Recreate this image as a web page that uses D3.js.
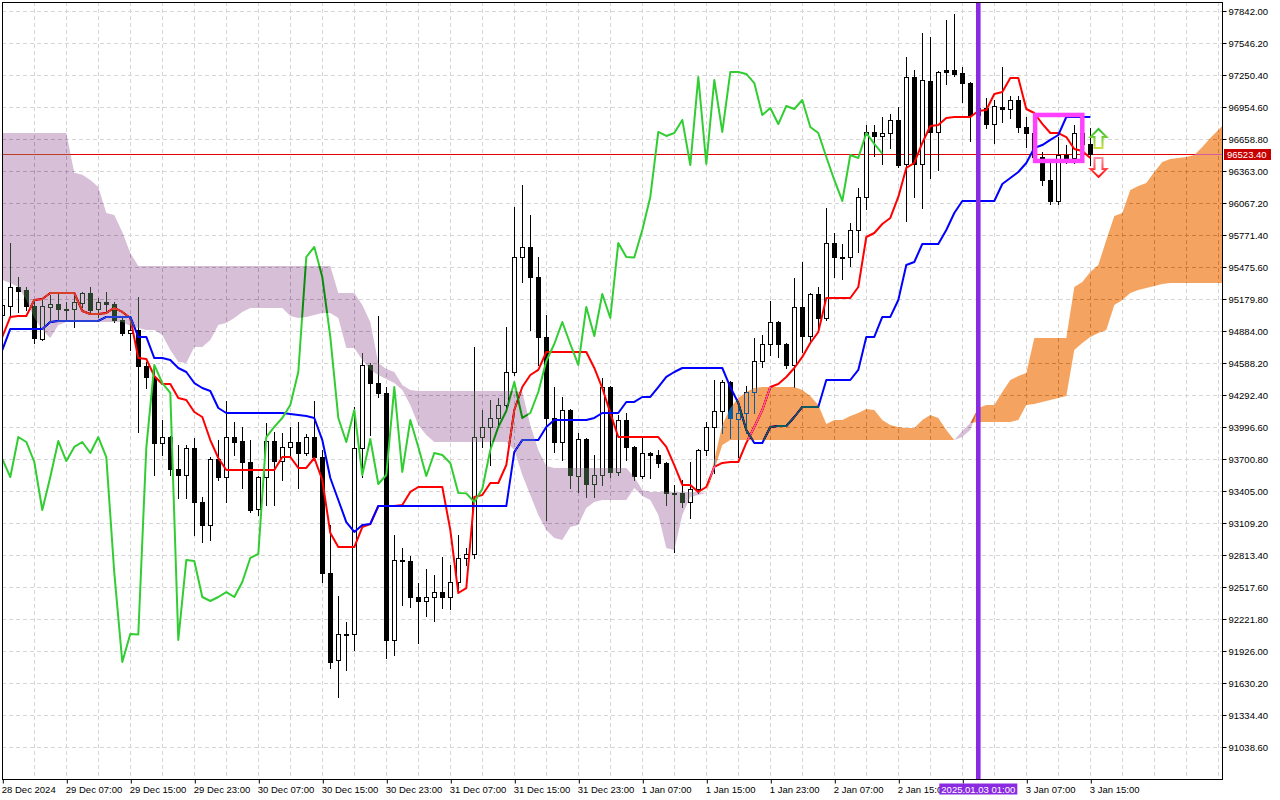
<!DOCTYPE html>
<html>
<head>
<meta charset="utf-8">
<script src="https://cdn.jsdelivr.net/npm/d3@7"></script>
<style>
  html, body { margin: 0; padding: 0; background: #fff; }
  svg { display: block; font-family: "Liberation Sans", Arial, sans-serif; }
</style>
</head>
<body>
<div id="chart"></div>
<script>
// Hourly BTC candles, bar 0 = 28 Dec 2024 23:00
const opens = [95032,95115,95291,95263,95115,94810,95106,95134,95087,95087,
  95143,95235,95087,95152,95134,94986,94866,94893,94561,94459,
  93849,93904,93608,93553,93803,93303,93091,93701,93534,93904,
  93867,93673,93239,93534,93867,93682,93812,93858,93756,93904,
  93719,92647,91843,92083,92079,93803,94570,94403,94311,92028,
  92767,92758,92425,92388,92425,92471,92425,92564,92786,92823,
  93904,93997,94080,94200,94505,95568,95661,95383,94829,94080,
  93858,94154,93544,93886,93470,93553,94366,93581,94061,93812,
  93544,93756,93738,93664,93387,93383,93303,93424,93784,93997,
  94145,94413,94071,94126,94320,94607,94764,94967,94764,94570,
  95106,94838,95226,95004,95698,95568,95564,95818,96123,96724,
  96687,96714,96835,96428,97232,96428,97195,96724,97297,97297,
  97269,97176,96881,96945,96797,96955,96936,97019,96770,96714,
  96492,96280,96086,96511,96483,96714,96613];
const highs = [95171,95698,95383,95291,95180,95180,95217,95226,95152,95235,
  95245,95291,95189,95245,95152,95014,95004,95198,94598,94551,
  94061,93915,93830,93830,93895,93350,93719,93876,94237,94043,
  93997,93876,93544,94034,93950,93941,93997,94043,93932,94237,
  93784,93091,92434,92194,94182,94681,94588,95023,94366,92998,
  92878,92804,92555,92684,92629,92795,92721,92998,92878,94736,
  94154,94246,94265,94921,96030,96234,95956,95568,95032,94366,
  94274,94165,93941,93895,93738,94450,94375,94108,94126,93820,
  93904,93766,93784,93673,93461,93507,93673,93790,94043,94431,
  94431,94420,94182,94376,94819,94847,95161,94977,94773,95374,
  95522,95235,95291,96021,95790,95688,95882,96206,96788,96788,
  96862,96890,96955,97417,97297,97639,97602,97287,97759,97814,
  97324,97185,97019,97038,97019,97324,97056,97056,96862,96760,
  96539,96437,96677,96603,96788,96760,96760];
const lows = [95004,95014,95060,95078,94773,94801,94967,94986,94986,94921,
  95106,95050,95014,95060,94967,94847,94708,93950,94357,93553,
  93738,93553,93340,93340,92998,92934,92952,93507,93303,93738,
  93433,93211,93183,93276,93276,93507,93719,93433,93738,93692,
  92564,91769,91501,91750,91935,93534,93923,94274,91861,91889,
  92351,92333,92000,92250,92203,92324,92314,92471,92721,92786,
  93812,93645,94015,94154,94477,95337,94893,94570,93137,93766,
  93692,93433,93396,93350,93350,93461,93534,93553,93692,93507,
  93525,93525,93627,93276,92841,93257,93155,93387,93738,93571,
  93941,93895,93719,93941,94126,94551,94662,94644,94542,94366,
  94690,94782,94912,94986,95383,95365,95485,95614,96012,96502,
  96428,96576,96400,95901,96123,96021,96298,96372,97167,97241,
  97001,96640,96788,96760,96622,96816,96853,96724,96585,96465,
  96234,96058,96058,96437,96437,96540,96418];
const closes = [95124,95291,95254,95115,94819,95115,95134,95087,95083,95152,
  95235,95078,95152,95134,94986,94866,94893,94561,94459,93849,
  93904,93608,93553,93803,93303,93091,93701,93534,93904,93858,
  93673,93229,93534,93867,93682,93812,93858,93756,93904,93719,
  92647,91824,92083,92079,93803,94570,94403,94311,92028,92767,
  92758,92425,92388,92425,92471,92425,92564,92786,92823,93904,
  93997,94080,94200,94505,95568,95661,95383,94829,94080,93858,
  94154,93553,93886,93470,93553,94366,93581,94061,93812,93544,
  93756,93738,93664,93387,93383,93303,93424,93784,93997,94145,
  94413,94080,94126,94320,94607,94764,94967,94764,94570,95106,
  94838,95226,95004,95698,95568,95564,95818,96123,96724,96687,
  96714,96835,96418,97232,96428,97204,96724,97278,97278,97260,
  97176,96881,96945,96797,96964,96936,97019,96770,96714,96492,
  96280,96086,96511,96483,96714,96613,96523.4];

// Ichimoku lines
const tenkan = [94829,95014,95023,95023,95171,95180,95235,95235,95235,95235,
  95069,95041,95041,95051,95097,95060,95004,94634,94625,94468,
  94394,94394,94265,94246,94135,94089,93876,93710,93599,93599,
  93599,93599,93599,93599,93599,93719,93719,93618,93618,93710,
  93507,93017,92887,92887,92887,93072,93100,93266,93266,93266,
  93276,93396,93442,93442,93442,93442,93045,92462,92508,93350,
  93368,93479,93479,93645,94154,94366,94477,94524,94690,94690,
  94690,94690,94690,94690,94542,94357,94126,93904,93904,93904,
  93904,93904,93904,93812,93645,93461,93461,93396,93442,93627,
  93664,93673,93673,93849,93997,94154,94366,94394,94459,94542,
  94644,94773,94875,95189,95189,95189,95189,95291,95753,95790,
  95873,95929,96123,96391,96437,96622,96779,96788,96853,96862,
  96862,96862,96918,96927,97075,97093,97223,97223,96936,96899,
  96798,96714,96714,96677,96566,96548,96483];
const kijun = [94708,94903,94903,94903,94903,94903,94967,94977,94977,94977,
  94977,94977,94977,95014,95014,95014,95014,94829,94829,94634,
  94634,94616,94542,94505,94403,94357,94329,94172,94126,94126,
  94126,94126,94126,94126,94126,94126,94117,94108,94098,94080,
  93876,93525,93322,93118,93026,93091,93100,93266,93266,93266,
  93266,93266,93266,93266,93266,93266,93266,93266,93266,93266,
  93266,93266,93266,93266,93766,93876,93876,93876,93997,94061,
  94061,94061,94061,94061,94080,94126,94126,94126,94228,94228,
  94274,94274,94366,94459,94505,94542,94542,94542,94542,94542,
  94542,94366,94219,93969,93849,93849,93997,94006,94006,94089,
  94182,94182,94182,94431,94431,94431,94431,94524,94829,94829,
  95014,95014,95171,95494,95522,95688,95688,95688,95818,95975,
  96086,96086,96086,96086,96086,96243,96298,96354,96437,96576,
  96603,96650,96696,96862,96862,96862,96862];
const senkouA = [95356,95328,95291,95171,95004,94893,94819,94940,94967,94967,
  94967,94967,94967,94967,94967,94967,94930,94912,94893,94893,
  94847,94708,94598,94588,94736,94736,94801,94940,94958,95004,
  95060,95097,95097,95097,95097,95097,95023,95004,95014,95032,
  95051,95051,95004,94727,94727,94616,94524,94477,94440,94403,
  94339,94200,94015,93923,93858,93858,93858,93858,93858,93858,
  93858,93858,93858,93858,93784,93553,93368,93183,93045,92971,
  92952,93072,93091,93248,93303,93322,93322,93322,93322,93433,
  93359,93322,93183,92878,92860,93183,93350,93368,93387,93692,
  94015,94172,94265,94320,94357,94366,94366,94366,94366,94366,
  94339,94283,94200,94024,94061,94061,94098,94126,94163,94154,
  94061,94015,93997,93987,93987,94061,94108,94080,93969,93876,
  93904,93969,94172,94200,94200,94320,94431,94468,94496,94819,
  94819,94819,94819,94819,95291,95337,95430,95494,95725,95947,
  95975,96187,96224,96252,96354,96446,96474,96483,96492,96511,
  96585,96668,96742,96816];
const senkouB = [96714,96714,96714,96714,96714,96714,96714,96714,96714,96346,
  96328,96280,96215,95975,95956,95799,95605,95485,95485,95485,
  95485,95485,95485,95485,95485,95485,95485,95485,95485,95485,
  95485,95485,95485,95485,95485,95485,95485,95485,95485,95485,
  95485,95485,95235,95235,95235,95124,94967,94588,94533,94505,
  94385,94339,94329,94329,94329,94329,94329,94329,94329,94329,
  94329,94329,94329,94329,94329,94320,94015,93784,93636,93618,
  93618,93618,93618,93618,93618,93618,93618,93618,93618,93534,
  93414,93396,93396,93396,93396,93396,93396,93396,93387,93599,
  93830,93876,93876,93876,93876,93876,93876,93876,93876,93876,
  93876,93876,93876,93876,93876,93876,93876,93876,93876,93876,
  93876,93876,93876,93876,93876,93876,93876,93876,93876,93876,
  93960,94034,94043,94043,94043,94043,94043,94061,94200,94209,
  94228,94246,94265,94283,94708,94773,94829,94866,94893,95124,
  95171,95235,95263,95282,95300,95319,95328,95328,95328,95328,
  95328,95328,95328,95328];
const chikouShift = 26;

// axes
const priceTicks = [91038.6,91334.4,91630.2,91926.0,92221.8,92517.6,92813.4,93109.2,
  93405.0,93700.8,93996.6,94292.4,94588.2,94884.0,95179.8,95475.6,95771.4,96067.2,
  96363.0,96658.8,96954.6,97250.4,97546.2,97842.0];
const timeTickBars = [0,8,16,24,32,40,48,56,64,72,80,88,96,104,112,120,128,136];
const timeLabels = ["28 Dec 2024","29 Dec 07:00","29 Dec 15:00","29 Dec 23:00","30 Dec 07:00",
  "30 Dec 15:00","30 Dec 23:00","31 Dec 07:00","31 Dec 15:00","31 Dec 23:00","1 Jan 07:00",
  "1 Jan 15:00","1 Jan 23:00","2 Jan 07:00","2 Jan 15:00","2 Jan 23:00","3 Jan 07:00","3 Jan 15:00"];

// annotations
const lastPrice = 96523.4;
const cursorBar = 122;
const cursorLabel = "2025.01.03 01:00";
const boxBars = [129.1, 135];
const boxPrices = [96881, 96456];
const arrowBar = 137;
const upArrowPrices = [96751, 96576];
const downArrowPrices = [96483, 96308];

const width = 1280, height = 800;
const plot = { left: 2, top: 2, right: 1222, bottom: 779 };

const svg = d3.select("#chart").append("svg")
  .attr("width", width)
  .attr("height", height);

svg.append("rect").attr("width", width).attr("height", height).attr("fill", "#fff");

const defs = svg.append("defs");
defs.append("clipPath").attr("id", "plotClip")
  .append("rect")
  .attr("x", plot.left + 1).attr("y", plot.top + 1)
  .attr("width", plot.right - plot.left - 1).attr("height", plot.bottom - plot.top - 1);

const upGrad = defs.append("linearGradient").attr("id", "upGrad")
  .attr("x1", 0).attr("y1", 0).attr("x2", 0).attr("y2", 1);
upGrad.append("stop").attr("offset", "0%").attr("stop-color", "#2fbf2f");
upGrad.append("stop").attr("offset", "100%").attr("stop-color", "#c8e040");
const dnGrad = defs.append("linearGradient").attr("id", "dnGrad")
  .attr("x1", 0).attr("y1", 0).attr("x2", 0).attr("y2", 1);
dnGrad.append("stop").attr("offset", "0%").attr("stop-color", "#ff8fa0");
dnGrad.append("stop").attr("offset", "100%").attr("stop-color", "#ff1010");

const x = d3.scaleLinear().domain([0, 152]).range([2.3, 1218.3]);
const y = d3.scaleLinear().domain([90742.7, 97943.7]).range([779, 0]);
const px = v => Math.round(v) + 0.5;

const body = svg.append("g").attr("clip-path", "url(#plotClip)");
// white backdrop inside the clipped group so the kumo blend has something to invert
body.append("rect")
  .attr("x", plot.left).attr("y", plot.top)
  .attr("width", plot.right - plot.left).attr("height", plot.bottom - plot.top)
  .attr("fill", "#fff");

// grid
body.append("g").selectAll("line")
  .data(priceTicks)
  .join("line")
  .attr("x1", plot.left).attr("x2", plot.right)
  .attr("y1", d => px(y(d))).attr("y2", d => px(y(d)))
  .attr("stroke", "#d6d6d6").attr("stroke-dasharray", "4,3");
body.append("g").selectAll("line")
  .data(d3.range(0, 153, 4))
  .join("line")
  .attr("x1", d => px(x(d))).attr("x2", d => px(x(d)))
  .attr("y1", plot.top).attr("y2", plot.bottom)
  .attr("stroke", "#d6d6d6").attr("stroke-dasharray", "4,3");

// last price line
body.append("line")
  .attr("x1", plot.left).attr("x2", plot.right)
  .attr("y1", px(y(lastPrice))).attr("y2", px(y(lastPrice)))
  .attr("stroke", "#e00000").attr("stroke-width", 1);

// candles
const candles = opens.map((o, i) => ({ i, o, h: highs[i], l: lows[i], c: closes[i] }));
const cg = body.append("g").attr("shape-rendering", "crispEdges");
cg.selectAll("line")
  .data(candles)
  .join("line")
  .attr("x1", d => px(x(d.i))).attr("x2", d => px(x(d.i)))
  .attr("y1", d => Math.round(y(d.h))).attr("y2", d => Math.round(y(d.l)) + 1)
  .attr("stroke", "#000");
cg.selectAll("rect")
  .data(candles)
  .join("rect")
  .attr("x", d => Math.round(x(d.i)) - 1.5)
  .attr("width", 4)
  .attr("y", d => Math.round(y(Math.max(d.o, d.c))) + 0.5)
  .attr("height", d => Math.max(1, Math.round(y(Math.min(d.o, d.c))) - Math.round(y(Math.max(d.o, d.c)))))
  .attr("fill", d => d.c >= d.o ? "#fff" : "#000")
  .attr("stroke", "#000");

// ichimoku lines
const lineGen = d3.line().x(d => x(d.i)).y(d => y(d.v));
const series = [
  { vals: tenkan.map((v, i) => ({ i, v })), color: "#ff0000" },
  { vals: kijun.map((v, i) => ({ i, v })), color: "#0000ff" },
  { vals: closes.slice(chikouShift).map((v, i) => ({ i, v })), color: "#32cd32" }
];
body.append("g").selectAll("path")
  .data(series)
  .join("path")
  .attr("d", d => lineGen(d.vals))
  .attr("fill", "none")
  .attr("stroke", d => d.color)
  .attr("stroke-width", 2)
  .attr("stroke-linejoin", "round");

// kumo, painted the way the terminal does it (inverting over what is below)
const kumo = senkouA.map((a, i) => ({ i, a, b: senkouB[i] }));
const upKumo = d3.area().x(d => x(d.i)).y0(d => y(d.b)).y1(d => y(Math.max(d.a, d.b)));
const downKumo = d3.area().x(d => x(d.i)).y0(d => y(d.a)).y1(d => y(Math.max(d.a, d.b)));
body.append("path").datum(kumo)
  .attr("d", upKumo)
  .attr("fill", "rgb(11,91,159)")
  .style("mix-blend-mode", "difference");
body.append("path").datum(kumo)
  .attr("d", downKumo)
  .attr("fill", "rgb(39,64,39)")
  .style("mix-blend-mode", "difference");

// vertical cursor line
body.append("line")
  .attr("x1", x(cursorBar)).attr("x2", x(cursorBar))
  .attr("y1", plot.top).attr("y2", plot.bottom)
  .attr("stroke", "#8a2be2").attr("stroke-width", 4.6);

// highlight box
body.append("rect")
  .attr("x", x(boxBars[0])).attr("y", y(boxPrices[0]))
  .attr("width", x(boxBars[1]) - x(boxBars[0]))
  .attr("height", y(boxPrices[1]) - y(boxPrices[0]))
  .attr("fill", "none").attr("stroke", "#ff40ff").attr("stroke-width", 4.5);

// signal arrows
function arrowPath(cx, top, bottom, up) {
  const hw = 8, sw = 4, head = 8;
  if (up) {
    return `M${cx},${top} L${cx + hw},${top + head} L${cx + sw},${top + head} L${cx + sw},${bottom}` +
      ` L${cx - sw},${bottom} L${cx - sw},${top + head} L${cx - hw},${top + head} Z`;
  }
  return `M${cx},${bottom} L${cx + hw},${bottom - head} L${cx + sw},${bottom - head} L${cx + sw},${top}` +
    ` L${cx - sw},${top} L${cx - sw},${bottom - head} L${cx - hw},${bottom - head} Z`;
}
const ax = Math.round(x(arrowBar)) + 0.5;
body.append("path")
  .attr("d", arrowPath(ax, y(upArrowPrices[0]), y(upArrowPrices[1]), true))
  .attr("fill", "#fff").attr("stroke", "url(#upGrad)").attr("stroke-width", 2);
body.append("path")
  .attr("d", arrowPath(ax, y(downArrowPrices[0]), y(downArrowPrices[1]), false))
  .attr("fill", "#fff").attr("stroke", "url(#dnGrad)").attr("stroke-width", 2);

// frame
svg.append("rect")
  .attr("x", plot.left + 0.5).attr("y", plot.top + 0.5)
  .attr("width", plot.right - plot.left).attr("height", plot.bottom - plot.top)
  .attr("fill", "none").attr("stroke", "#000");

// price axis
const yAxis = svg.append("g")
  .attr("transform", `translate(${plot.right + 0.5},0)`)
  .call(d3.axisRight(y).tickValues(priceTicks).tickSize(4).tickPadding(2).tickFormat(d => d.toFixed(2)));
yAxis.select(".domain").remove();
yAxis.selectAll("text").style("font-size", "9.5px").style("font-family", "Liberation Sans, Arial, sans-serif").attr("fill", "#000");

// time axis; a label that sits under the cursor tag is covered by it
const cx0 = x(cursorBar);
const xAxis = svg.append("g")
  .attr("transform", `translate(0,${plot.bottom + 0.5})`)
  .call(d3.axisBottom(x).tickValues(timeTickBars).tickSize(4)
    .tickFormat((d, i) => Math.abs(x(d) - cx0) < 39 ? "" : timeLabels[i]));
xAxis.select(".domain").remove();
xAxis.selectAll(".tick line").attr("transform", "translate(0.5,0)");
xAxis.selectAll("text")
  .attr("text-anchor", "start").attr("x", -1)
  .style("font-size", "9.5px").style("font-family", "Liberation Sans, Arial, sans-serif").attr("fill", "#000");

// last price tag
const lpY = Math.round(y(lastPrice));
svg.append("rect")
  .attr("x", plot.right + 2).attr("y", lpY - 5)
  .attr("width", 47).attr("height", 11)
  .attr("fill", "#c80000");
svg.append("text")
  .attr("x", plot.right + 5).attr("y", lpY + 4)
  .attr("fill", "#fff").style("font-size", "9.5px")
  .text(lastPrice.toFixed(2));

// cursor time tag
svg.append("rect")
  .attr("x", cx0 - 39).attr("y", 783.5)
  .attr("width", 78).attr("height", 11)
  .attr("fill", "#8a2be2");
svg.append("text")
  .attr("x", cx0).attr("y", 792.5)
  .attr("text-anchor", "middle")
  .attr("fill", "#fff").style("font-size", "9.5px")
  .text(cursorLabel);
</script>
</body>
</html>
